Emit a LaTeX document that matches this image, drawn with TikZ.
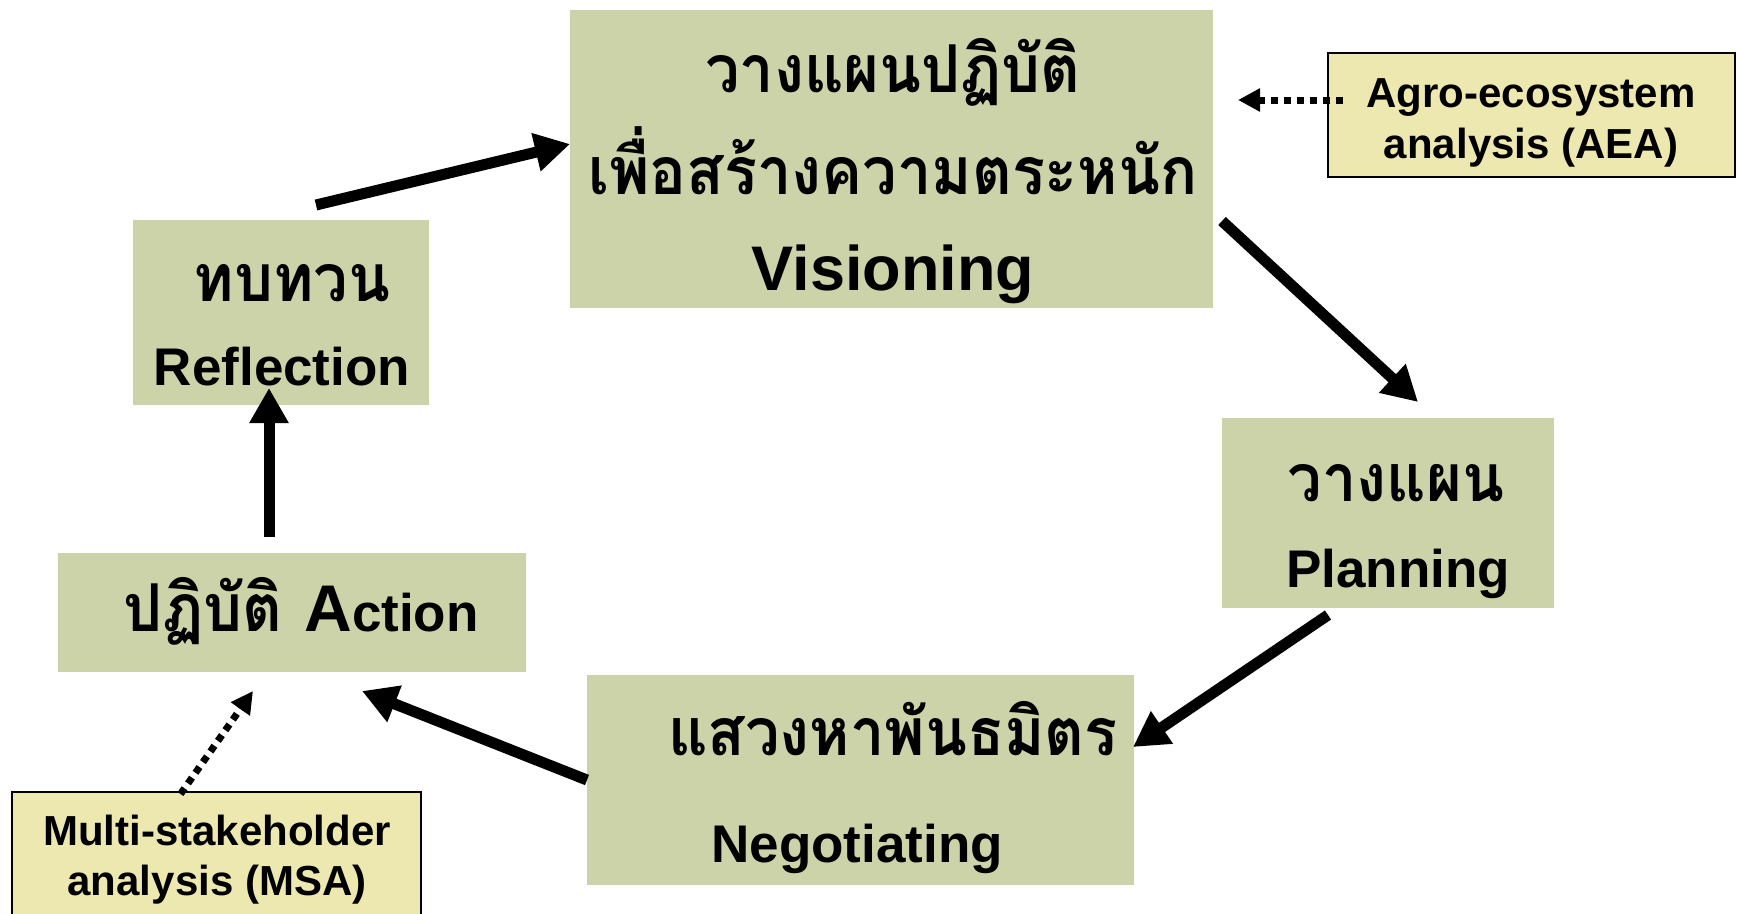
\documentclass[tikz,border=0pt]{standalone}
\usepackage{fontspec}
\setmainfont{Liberation Sans}
\newfontfamily\thaifont[Script=Thai,FakeStretch=0.93]{Loma}
\usetikzlibrary{arrows.meta}
\definecolor{boxgreen}{RGB}{204,211,169}
\definecolor{boxyellow}{RGB}{237,232,176}
\tikzset{
  gbox/.style={fill=boxgreen, draw=none, inner sep=0pt, outer sep=0pt},
  ybox/.style={fill=boxyellow, draw=black, line width=2pt, inner sep=0pt, outer sep=0pt},
  thtxt/.style={anchor=base, inner sep=0pt, font=\thaifont\bfseries\fontsize{66}{70}\selectfont},
  entxt/.style={anchor=base, inner sep=0pt, font=\bfseries\fontsize{53}{60}\selectfont},
  smtxt/.style={anchor=base, inner sep=0pt, font=\bfseries\fontsize{42}{48}\selectfont},
  bigarrow/.style={line width=11pt, -{Triangle[length=35pt,width=37pt]}},
  dotarrow/.style={line width=7pt, dash pattern=on 7pt off 6pt, -{Triangle[length=22pt,width=22pt]}},
}
\begin{document}
\begin{tikzpicture}[x=1pt,y=-1pt]
\useasboundingbox (0,0) rectangle (1737,913);
% boxes
\node[gbox, minimum width=643pt, minimum height=298pt] (vis) at (891.5,159) {};
\node[gbox, minimum width=296pt, minimum height=185pt] (refl) at (281,312.5) {};
\node[gbox, minimum width=332pt, minimum height=190pt] (plan) at (1388,513) {};
\node[gbox, minimum width=468pt, minimum height=119pt] (act) at (292,612.5) {};
\node[gbox, minimum width=547pt, minimum height=210pt] (neg) at (860.5,780) {};
\node[ybox, minimum width=407pt, minimum height=124pt] (aea) at (1531,115) {};
\node[ybox, minimum width=409pt, minimum height=140pt] (msa) at (216.5,862) {};
% texts
\node[thtxt] (visA) at (893,92) {วางแผนปฏิบัติ};
\node[thtxt] (visB) at (893,194) {เพื่อสร้างความตระหนัก};
\node[entxt, font=\bfseries\fontsize{63}{70}\selectfont] (visC) at (893,290) {Visioning};
\node[thtxt] (reflA) at (292,301) {ทบทวน};
\node[entxt] (reflB) at (282,385) {Reflection};
\node[thtxt] (planA) at (1396,501) {วางแผน};
\node[entxt] (planB) at (1398,587) {Planning};
\node[anchor=base, inner sep=0pt] (actA) at (301,631) {{\thaifont\bfseries\fontsize{66}{70}\selectfont ปฏิบัติ}\hspace{22pt}{\bfseries\fontsize{66}{70}\selectfont A}{\bfseries\fontsize{53}{60}\selectfont ction}};
\node[thtxt] (negA) at (893,755) {แสวงหาพันธมิตร};
\node[entxt] (negB) at (857,862) {Negotiating};
\node[smtxt] (aeaA) at (1531,107) {Agro-ecosystem};
\node[smtxt] (aeaB) at (1531,158) {analysis (AEA)};
\node[smtxt] (msaA) at (217,845) {Multi-stakeholder};
\node[smtxt] (msaB) at (217,895) {analysis (MSA)};
% cycle arrows
\draw[bigarrow] ([xshift=35pt,yshift=15pt]refl.north) -- ([yshift=15pt]vis.west);
\draw[bigarrow] ([xshift=9pt,yshift=-62pt]vis.east) -- ([xshift=30pt,yshift=16pt]plan.north);
\draw[bigarrow] ([xshift=-60pt,yshift=-7pt]plan.south) -- ([xshift=-1pt,yshift=33pt]neg.east);
\draw[bigarrow] (neg.west) -- ([xshift=70pt,yshift=-19pt]act.south);
\draw[bigarrow] ([xshift=-23pt,yshift=16pt]act.north) -- ([xshift=-12pt,yshift=17pt]refl.south);
% dotted arrows
\draw[dotarrow] ([xshift=15pt,yshift=15pt]aea.west) -- ([xshift=25pt,yshift=59pt]vis.east);
\draw[dotarrow] ([xshift=-36pt,yshift=-2pt]msa.north) -- ([xshift=-39pt,yshift=-19pt]act.south);
\end{tikzpicture}
\end{document}
